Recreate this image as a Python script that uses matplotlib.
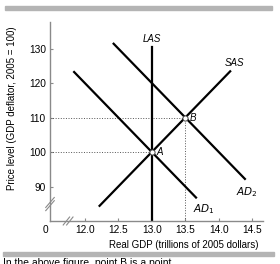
import matplotlib.pyplot as plt
import numpy as np

plt.rcParams['font.family'] = ['Liberation Sans', 'DejaVu Sans']

# Data
x_ticks = [12.0, 12.5, 13.0, 13.5, 14.0, 14.5]
y_ticks = [90, 100, 110, 120, 130]

las_x = [13.0, 13.0]
las_y = [80.0, 130.4]
sas_x = [12.22, 14.17]
sas_y = [84.4, 123.4]
ad1_x = [11.84, 13.66]
ad1_y = [123.2, 86.8]
ad2_x = [12.43, 14.39]
ad2_y = [131.4, 92.2]

point_names = ['A', 'B']
point_x = [13.0, 13.5]
point_y = [100, 110]

fig = plt.figure(figsize=(2.8, 2.64), dpi=100)
ax = fig.add_axes([50 / 280, 1 - 221 / 264, 213 / 280, 199 / 264])
ax.set_xlim(11.48, 14.66)
ax.set_ylim(80.0, 137.7)

axcol = '#8a8a8a'
for s in ['top', 'right']:
    ax.spines[s].set_visible(False)
for s in ['left', 'bottom']:
    ax.spines[s].set_color(axcol)
    ax.spines[s].set_linewidth(1.0)

ax.set_xticks(x_ticks)
ax.set_xticklabels(['%.1f' % v for v in x_ticks])
ax.set_yticks(y_ticks)
ax.tick_params(direction='in', length=2.5, width=0.8, color=axcol,
               labelsize=7.3, pad=3)

# dotted guides
ax.plot([ax.get_xlim()[0], point_x[0]], [point_y[0]] * 2, ':', color='#555555', lw=0.7)
ax.plot([ax.get_xlim()[0], point_x[1]], [point_y[1]] * 2, ':', color='#555555', lw=0.7)
ax.plot([point_x[1]] * 2, [ax.get_ylim()[0], point_y[1]], ':', color='#555555', lw=0.7)

# curves
lw = 1.6
ax.plot(las_x, las_y, color='black', lw=lw)
ax.plot(sas_x, sas_y, color='black', lw=lw)
ax.plot(ad1_x, ad1_y, color='black', lw=lw)
ax.plot(ad2_x, ad2_y, color='black', lw=lw)

ax.scatter(point_x, point_y, s=14, facecolor='white', edgecolor='#444444',
           linewidth=0.7, zorder=5)
for n, px, py in zip(point_names, point_x, point_y):
    ax.text(px + 0.07, py, n, style='italic', fontsize=7, va='center', ha='left')

ax.text(13.0, 131.2, 'LAS', style='italic', fontsize=7, ha='center', va='bottom')
ax.text(14.24, 124.5, 'SAS', style='italic', fontsize=7, ha='center', va='bottom')
ax.text(13.78, 83.5, '$AD_1$', fontsize=7.6, ha='center', va='center',
        math_fontfamily='dejavusans')
ax.text(14.42, 88.5, '$AD_2$', fontsize=7.6, ha='center', va='center',
        math_fontfamily='dejavusans')

# axis breaks
for (bx, by) in [(0.0, 0.085), (0.085, 0.0)]:
    for d in (-0.008, 0.008):
        if bx == 0.0:
            ax.plot([bx - 0.02, bx + 0.02], [by + d - 0.025, by + d + 0.025],
                    transform=ax.transAxes, color=axcol, lw=0.8, clip_on=False)
        else:
            ax.plot([bx + d - 0.015, bx + d + 0.015], [by - 0.02, by + 0.02],
                    transform=ax.transAxes, color=axcol, lw=0.8, clip_on=False)
ax.text(-0.023, -0.045, '0', transform=ax.transAxes, fontsize=7.3,
        ha='center', va='center')

ax.set_xlabel('Real GDP (trillions of 2005 dollars)', fontsize=7)
ax.xaxis.set_label_coords(0.63, -0.095)
fig.text(12 / 280, 1 - 108 / 264, 'Price level (GDP deflator, 2005 = 100)',
         rotation=90, fontsize=7, ha='center', va='center')

# gray rules above and below
fig.add_artist(plt.Rectangle((5 / 280, 1 - 10 / 264), 267 / 280, 4 / 264,
                             transform=fig.transFigure, color='#b4b4b4'))
fig.add_artist(plt.Rectangle((3 / 280, 1 - 256 / 264), 271 / 280, 4 / 264,
                             transform=fig.transFigure, color='#b4b4b4'))
fig.text(3 / 280, 1 - 258 / 264, 'In the above figure, point B is a point',
         fontsize=7.5, ha='left', va='top')

fig.savefig('out.png', dpi=100)
